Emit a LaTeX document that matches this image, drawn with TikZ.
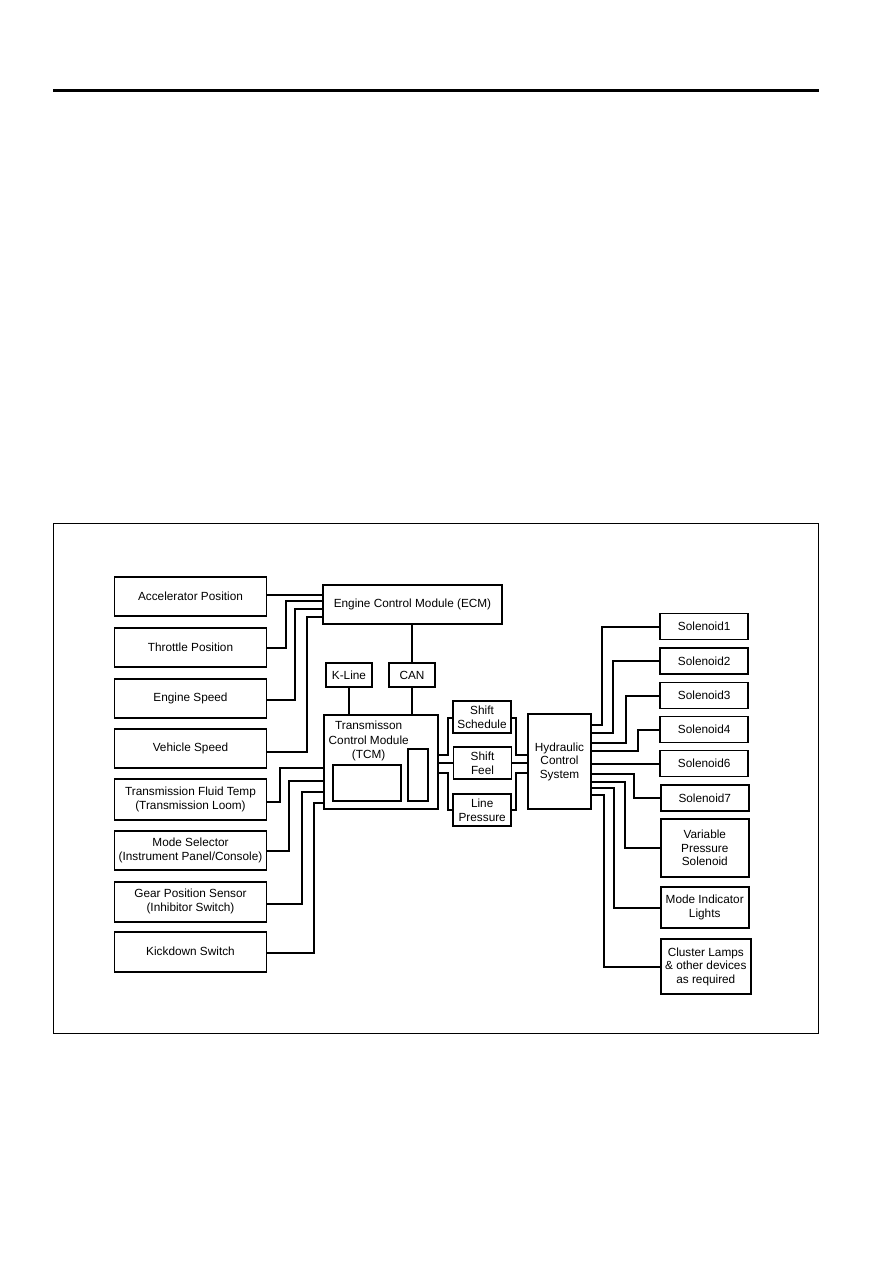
\documentclass[tikz,border=0pt]{standalone}
\usepackage{fontspec}
\setmainfont{Liberation Sans}
\begin{document}
\begin{tikzpicture}[x=1pt,y=-1pt,
  box/.style={draw, line width=1.8pt, inner sep=1pt, align=center,
    font=\fontsize{11.8}{13.6}\selectfont},
  lbox/.style={box, minimum width=152pt, minimum height=39pt},
  sbox/.style={box, minimum width=88pt, minimum height=26pt},
  mbox/.style={box, minimum width=58pt, minimum height=32pt},
  plain/.style={draw, line width=1.8pt, inner sep=0pt},
  wire/.style={line width=2pt}]
\useasboundingbox (0,0) rectangle (893,1263);
% top rule and frame
\fill (52.7,89) rectangle (819,92);
\draw[line width=1.6pt] (53.3,523.3) rectangle (818.3,1033.3);
% left inputs
\node[lbox] (acc) at (190.5,596.5) {Accelerator Position};
\node[lbox] (thr) at (190.5,647.5) {Throttle Position};
\node[lbox] (eng) at (190.5,698.5) {Engine Speed};
\node[lbox] (veh) at (190.5,748.5) {Vehicle Speed};
\node[lbox, minimum height=41pt] (tft) at (190.5,799.5) {Transmission Fluid Temp\\(Transmission Loom)};
\node[lbox] (mode) at (190.5,850.5) {Mode Selector\\(Instrument Panel/Console)};
\node[lbox, minimum height=40pt] (gear) at (190.5,901.7) {Gear Position Sensor\\(Inhibitor Switch)};
\node[lbox, minimum height=40pt] (kick) at (190.5,951.7) {Kickdown Switch};
% ECM, K-Line, CAN
\node[box, minimum width=179pt, minimum height=39pt] (ecm) at (412.5,604.5) {Engine Control Module (ECM)};
\node[box, minimum width=46pt, minimum height=24.5pt] (kline) at (349,675) {K-Line};
\node[box, minimum width=46.6pt, minimum height=24.5pt] (can) at (412,675) {CAN};
% TCM
\node[plain, minimum width=114pt, minimum height=94.3pt] (tcm) at (381.3,762.2) {};
\node[plain, minimum width=68pt, minimum height=36pt] (tcma) at (366.7,782.7) {};
\node[plain, minimum width=20pt, minimum height=52pt] (tcmb) at (418.3,774.7) {};
\node[align=center, inner sep=0pt, font=\fontsize{11.8}{14.5}\selectfont] (tcmtext) at (368.7,741) {Transmisson\\Control Module\\(TCM)};
% middle boxes
\node[mbox] (ss) at (482,717) {Shift\\Schedule};
\node[mbox] (sf) at (482.5,763) {Shift\\Feel};
\node[mbox] (lp) at (482.2,810) {Line\\Pressure};
% hydraulic
\node[box, minimum width=62.4pt, minimum height=94.7pt] (hyd) at (559.5,761.7) {Hydraulic\\Control\\System};
% outputs
\node[sbox] (s1) at (704.2,626.5) {Solenoid1};
\node[sbox] (s2) at (704.2,661) {Solenoid2};
\node[sbox] (s3) at (704.2,695.5) {Solenoid3};
\node[sbox] (s4) at (704.2,729.5) {Solenoid4};
\node[sbox] (s6) at (704.2,763.5) {Solenoid6};
\node[sbox] (s7) at (704.8,798) {Solenoid7};
\node[sbox, minimum height=57.4pt] (vps) at (704.8,848) {Variable\\Pressure\\Solenoid};
\node[sbox, minimum height=41pt] (mil) at (704.7,907.2) {Mode Indicator\\Lights};
\node[sbox, minimum width=89.7pt, minimum height=55.3pt] (clu) at (705.8,966.7) {Cluster Lamps\\\& other devices\\as required};
% wires to ECM
\draw[wire] (acc.east |- 0,595) -- (ecm.west |- 0,595);
\draw[wire] (thr.east |- 0,648) -| (286,601) -- (ecm.west |- 0,601);
\draw[wire] (eng.east |- 0,700) -| (295,609) -- (ecm.west |- 0,609);
\draw[wire] (veh.east |- 0,752) -| (307,617) -- (ecm.west |- 0,617);
% wires to TCM
\draw[wire] (tft.east |- 0,802) -| (280,768) -- (tcm.west |- 0,768);
\draw[wire] (mode.east |- 0,851) -| (289,781) -- (tcm.west |- 0,781);
\draw[wire] (gear.east |- 0,904) -| (302,792) -- (tcm.west |- 0,792);
\draw[wire] (kick.east |- 0,953) -| (314,803) -- (tcm.west |- 0,803);
% ECM - CAN - TCM, K-Line - TCM
\draw[wire] (can.north) -- (can.north |- ecm.south);
\draw[wire] (can.south) -- (can.south |- tcm.north);
\draw[wire] (kline.south) -- (kline.south |- tcm.north);
% TCM to middle boxes
\draw[wire] (tcm.east |- 0,755) -- (448,755) |- (ss.west |- 0,718);
\draw[wire] (tcm.east |- sf.west) -- (sf.west);
\draw[wire] (tcm.east |- 0,773) -- (448,773) |- (lp.west);
% middle boxes to hydraulic
\draw[wire] (ss.east |- 0,718) -- (516,718) |- (hyd.west |- 0,755);
\draw[wire] (sf.east) -- (hyd.west |- sf.east);
\draw[wire] (lp.east) -- (516,810) |- (hyd.west |- 0,773);
% hydraulic to outputs
\draw[wire] (hyd.east |- 0,725) -- (602,725) |- (s1.west |- 0,627);
\draw[wire] (hyd.east |- 0,733) -- (613,733) |- (s2.west);
\draw[wire] (hyd.east |- 0,743) -- (626,743) |- (s3.west |- 0,696);
\draw[wire] (hyd.east |- 0,751) -- (638,751) |- (s4.west);
\draw[wire] (hyd.east |- 0,764) -- (s6.west |- 0,764);
\draw[wire] (hyd.east |- 0,774) -- (634,774) |- (s7.west);
\draw[wire] (hyd.east |- 0,782) -- (625,782) |- (vps.west);
\draw[wire] (hyd.east |- 0,788) -- (614,788) |- (mil.west |- 0,908);
\draw[wire] (hyd.east |- 0,795) -- (604,795) |- (clu.west |- 0,967);
\end{tikzpicture}
\end{document}
